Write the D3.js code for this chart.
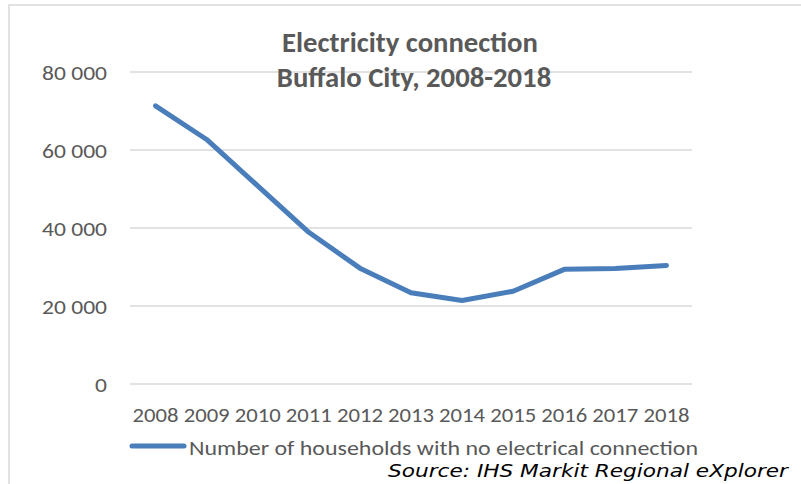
<!DOCTYPE html>
<html>
<head>
<meta charset="utf-8">
<script src="https://cdn.jsdelivr.net/npm/d3@7"></script>
<style>
  html, body { margin: 0; padding: 0; background: #fff; }
  svg { display: block; }
</style>
</head>
<body>
<svg id="chart" width="801" height="484"></svg>
<script>
const years = ["2008","2009","2010","2011","2012","2013","2014","2015","2016","2017","2018"];
const households = [71300, 62700, 50800, 38900, 29700, 23400, 21400, 23800, 29400, 29600, 30400];
const yTicks = [0, 20000, 40000, 60000, 80000];
const titleLines = ["Electricity connection", "Buffalo City, 2008-2018"];
const seriesName = "Number of households with no electrical connection";
const sourceText = "Source: IHS Markit Regional eXplorer";

const svg = d3.select("#chart");
const sansFont = "Carlito, Calibri, Lato, 'Open Sans', sans-serif";
const grey = "#595959";

const x = d3.scaleBand().domain(years).range([130, 692]);
const y = d3.scaleLinear().domain([0, 80000]).range([384, 72]);

// stretch/squeeze texts horizontally so the reference text reaches target width
function squeeze(sel, refNode, target) {
  const factor = target / refNode.getComputedTextLength();
  sel.each(function () {
    const w = this.getComputedTextLength();
    d3.select(this).attr("textLength", w * factor).attr("lengthAdjust", "spacingAndGlyphs");
  });
}
// scale font size so the text reaches target width
function fit(sel, target) {
  const w = sel.node().getComputedTextLength();
  const s = parseFloat(sel.attr("font-size")) * target / w;
  sel.attr("font-size", s);
  return s;
}

// chart border (top and left)
svg.append("path")
  .attr("d", "M9,484 L9,5 L801,5")
  .attr("fill", "none").attr("stroke", "#d9d9d9").attr("stroke-width", 1.5);

// gridlines
svg.append("g").selectAll("line").data(yTicks).join("line")
  .attr("x1", 130).attr("x2", 692)
  .attr("y1", d => y(d)).attr("y2", d => y(d))
  .attr("stroke", "#d9d9d9").attr("stroke-width", 1.5);

// y axis labels
const fmt = d => d3.format(",")(d).replace(/,/g, " ");
const yAxis = svg.append("g").attr("transform", "translate(107,0)")
  .call(d3.axisLeft(y).tickValues(yTicks).tickFormat(fmt).tickSize(0).tickPadding(0));
yAxis.select(".domain").remove();
yAxis.selectAll("text").attr("font-family", sansFont).attr("fill", grey).attr("font-size", 19.5).attr("dy", "0.36em");
squeeze(yAxis.selectAll("text"), yAxis.selectAll("text").filter(d => d === 80000).node(), 65);

// x axis labels
const xAxis = svg.append("g").attr("transform", "translate(0,384)")
  .call(d3.axisBottom(x).tickSize(0).tickPadding(0));
xAxis.select(".domain").remove();
xAxis.selectAll("text").attr("font-family", sansFont).attr("fill", grey).attr("font-size", 19.5).attr("dy", null).attr("y", 38);
squeeze(xAxis.selectAll("text"), xAxis.select("text").node(), 46);

// line
const line = d3.line().x((d, i) => x(years[i]) + x.bandwidth() / 2).y(d => y(d));
svg.append("path").datum(households)
  .attr("d", line)
  .attr("fill", "none").attr("stroke", "#4a7ebb").attr("stroke-width", 5)
  .attr("stroke-linejoin", "round").attr("stroke-linecap", "round");

// title
const t1 = svg.append("text").attr("x", 410).attr("y", 52).attr("text-anchor", "middle")
  .attr("font-family", sansFont).attr("font-weight", "bold").attr("fill", grey)
  .attr("font-size", 20).text(titleLines[0]);
const ts = fit(t1, 256);
svg.append("text").attr("x", 414).attr("y", 87).attr("text-anchor", "middle")
  .attr("font-family", sansFont).attr("font-weight", "bold").attr("fill", grey)
  .attr("font-size", ts).text(titleLines[1]);

// legend
svg.append("line").attr("x1", 132).attr("x2", 184).attr("y1", 446).attr("y2", 446)
  .attr("stroke", "#4a7ebb").attr("stroke-width", 5).attr("stroke-linecap", "round");
const lg = svg.append("text").attr("x", 189).attr("y", 455)
  .attr("font-family", sansFont).attr("fill", grey).attr("font-size", 19.5).text(seriesName);
squeeze(lg, lg.node(), 509);

// source
const src = svg.append("text").attr("x", 788).attr("y", 477).attr("text-anchor", "end")
  .attr("font-family", "'DejaVu Sans', Verdana, sans-serif").attr("font-style", "italic")
  .attr("fill", "#000").attr("font-size", 17).text(sourceText);
squeeze(src, src.node(), 400);
</script>
</body>
</html>
